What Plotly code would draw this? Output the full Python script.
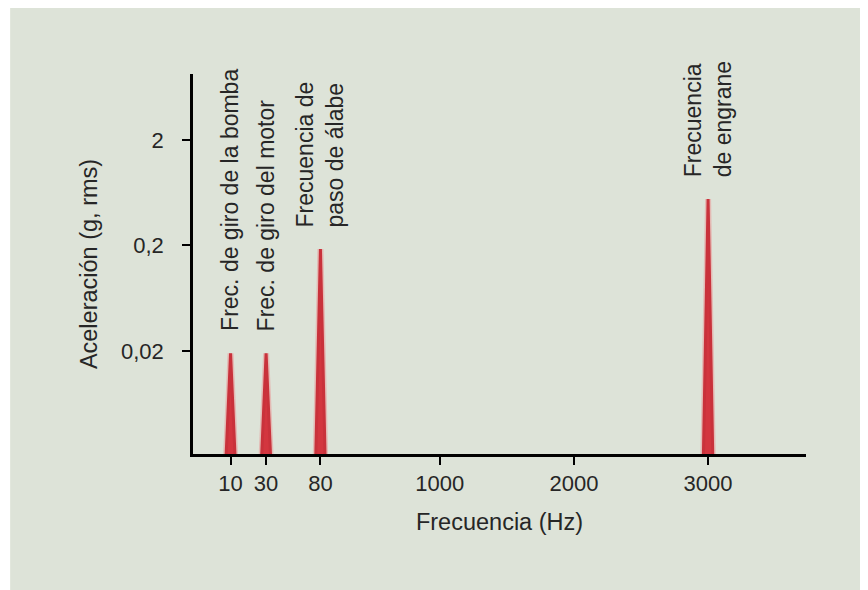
import numpy as np
import plotly.graph_objects as go

# ---- data ----
peak_freqs = [10, 30, 80, 3000]            # Hz
peak_amps = [0.019, 0.019, 0.185, 0.55]    # g, rms
peak_labels = [
    "Frec. de giro de la bomba",
    "Frec. de giro del motor",
    "Frecuencia de<br>paso de álabe",
    "Frecuencia<br>de engrane",
]
x_tick_freqs = [10, 30, 80, 1000, 2000, 3000]
x_tick_labels = ["10", "30", "80", "1000", "2000", "3000"]
y_tick_vals = [0.02, 0.2, 2]
y_tick_labels = ["0,02", "0,2", "2"]

# ---- schematic (broken) frequency scale: low band is expanded ----
_knots_f = [10, 30, 80, 1000, 3000]
_knots_d = [-560, -295, 110, 1000, 3000]


def fscale(f):
    f = np.asarray(f, dtype=float)
    return np.interp(f, _knots_f, _knots_d) + np.where(f > 3000, f - 3000, 0)


PANEL = "#dde3d8"
RED = "#d3363f"
TXT = "#262626"
FONT = "Liberation Sans, Arial, Helvetica, sans-serif"

Y_LO, Y_HI = 0.00211, 8.45
half_w = 36  # spike half-width at base (axis units)

fig = go.Figure()

for f, a in zip(peak_freqs, peak_amps):
    xc = float(fscale(f))
    xs = [xc - half_w, xc, xc + half_w]
    ys = [Y_LO * 0.8, a, Y_LO * 0.8]
    # soft glow
    fig.add_trace(go.Scatter(x=xs, y=ys, mode="lines",
                             line=dict(color="rgba(240,110,115,0.35)", width=6),
                             hoverinfo="skip", showlegend=False))
    fig.add_trace(go.Scatter(x=xs, y=ys, mode="lines", fill="toself",
                             fillcolor=RED,
                             line=dict(color="#c9323b", width=3),
                             hoverinfo="skip", showlegend=False))

for f, a, lab in zip(peak_freqs, peak_amps, peak_labels):
    fig.add_annotation(x=float(fscale(f)), y=np.log10(a), text=lab,
                       textangle=-90, showarrow=False, xanchor="center",
                       yanchor="bottom", yshift=20, align="left",
                       font=dict(family=FONT, size=23, color=TXT))

fig.update_xaxes(
    range=[-840, 3730], showgrid=False, zeroline=False,
    showline=True, linecolor="black", linewidth=2.5,
    ticks="outside", ticklen=8, tickwidth=2, tickcolor="black",
    tickvals=list(fscale(x_tick_freqs)), ticktext=x_tick_labels,
    tickfont=dict(family=FONT, size=22, color=TXT),
    title=dict(text="Frecuencia (Hz)", standoff=19,
               font=dict(family=FONT, size=23.5, color=TXT)),
)
fig.update_yaxes(
    type="log", range=[np.log10(Y_LO), np.log10(Y_HI)],
    showgrid=False, zeroline=False,
    showline=True, linecolor="black", linewidth=2.5,
    ticks="outside", ticklen=8, tickwidth=2, tickcolor="black",
    tickvals=y_tick_vals, ticktext=y_tick_labels,
    ticklabelstandoff=14,
    tickfont=dict(family=FONT, size=22, color=TXT),
    title=dict(text="Aceleración (g, rms)", standoff=17,
               font=dict(family=FONT, size=23.5, color=TXT)),
)

# the page body adds an 8px margin, so the figure is 860x582
W, H = 860, 582
L, T = 185, 66
pw, ph = 613.5, 380
R, B = W - L - pw, H - T - ph


def px_x(fx):
    return (fx - L) / pw


def px_y(fy):
    return (H - B - fy) / ph


fig.add_shape(type="rect", xref="paper", yref="paper",
              x0=px_x(2), x1=px_x(W), y0=px_y(H), y1=px_y(0),
              fillcolor=PANEL, line=dict(width=0), layer="below")

fig.update_layout(
    width=W, height=H,
    margin=dict(l=L, r=R, t=T, b=B, autoexpand=False),
    paper_bgcolor="white", plot_bgcolor="rgba(0,0,0,0)",
    showlegend=False,
    font=dict(family=FONT, color=TXT),
)

fig.write_html("out.html")
